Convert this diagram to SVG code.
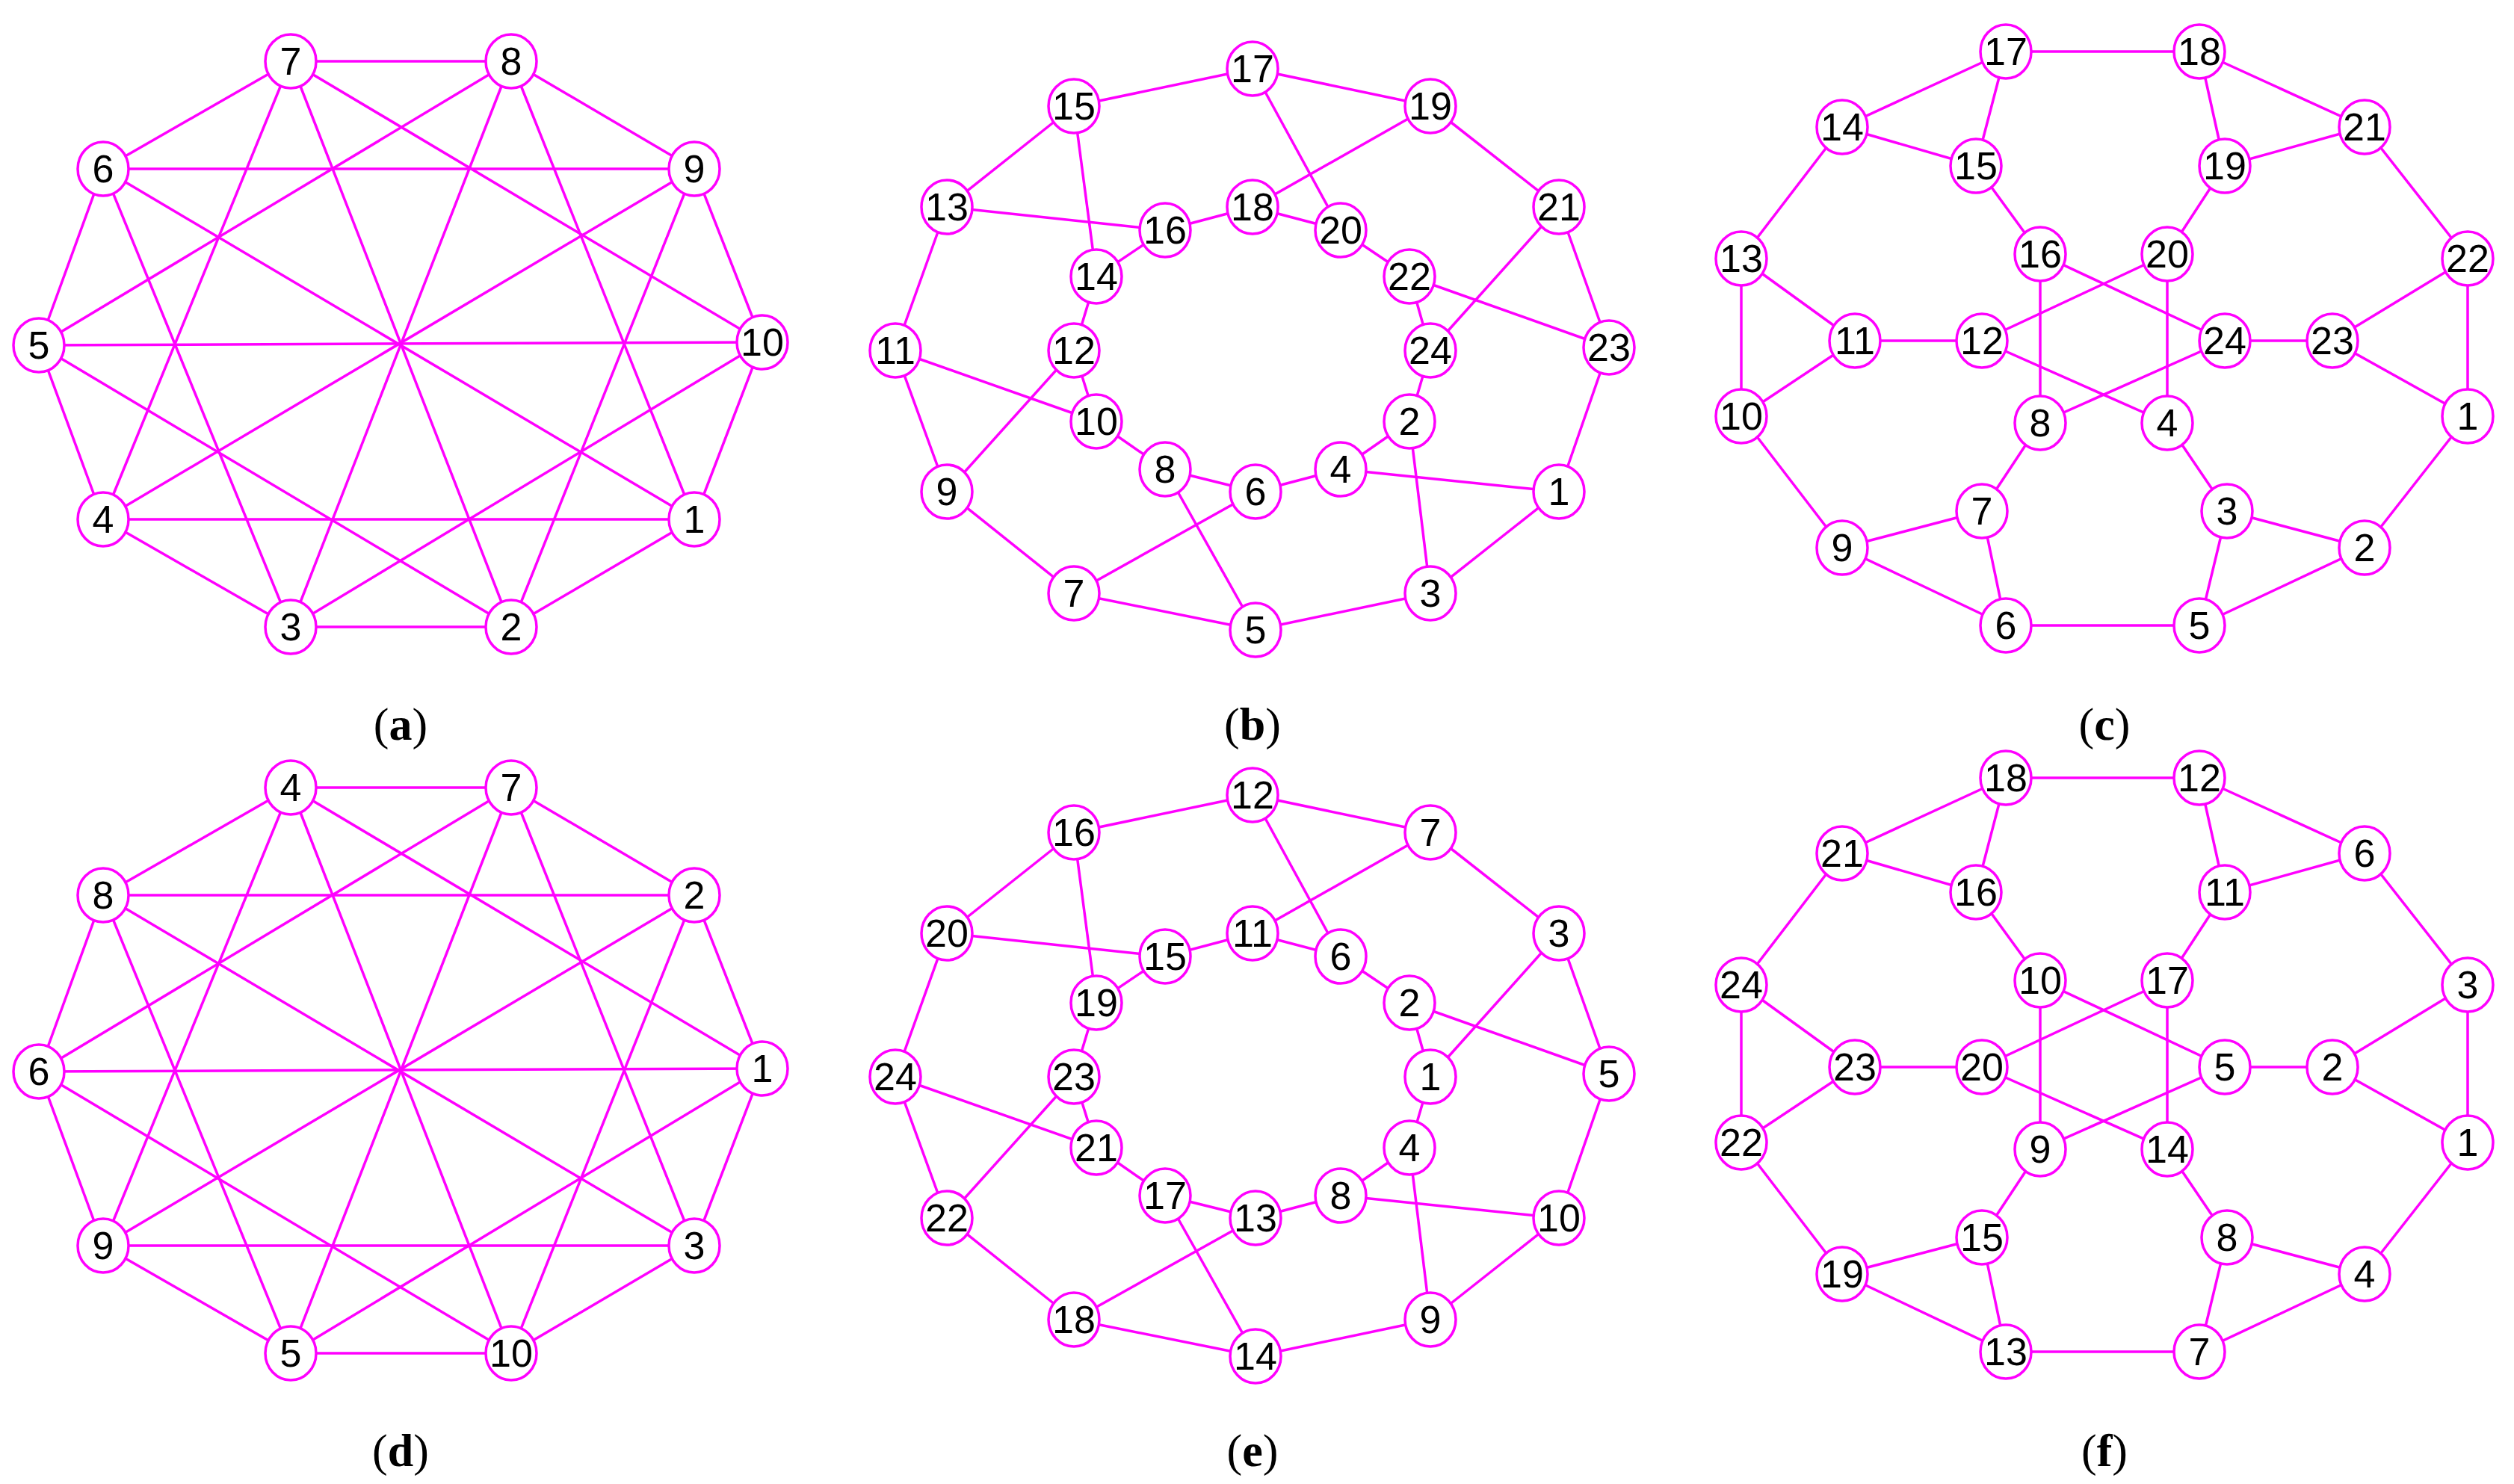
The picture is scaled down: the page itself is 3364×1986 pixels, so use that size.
<svg xmlns="http://www.w3.org/2000/svg" width="3364" height="1986" viewBox="0 0 3364 1986">
<style>
.n ellipse{fill:#fff;stroke:#FF00FF;stroke-width:3.5}
.n text{font-family:"Liberation Sans",Arial,sans-serif;font-size:52px;fill:#000;text-anchor:middle}
.cap{font-family:"Liberation Serif","Times New Roman",serif;font-size:62px;fill:#000;text-anchor:middle}
</style>
<rect width="3364" height="1986" fill="#fff"/>
<defs>
<g id="ga" stroke="#FF00FF" stroke-width="3.5">
<line x1="389" y1="82" x2="684" y2="82"/><line x1="684" y1="82" x2="929" y2="226"/><line x1="929" y1="226" x2="1020" y2="458"/><line x1="1020" y1="458" x2="929" y2="695"/><line x1="929" y1="695" x2="684" y2="839"/><line x1="684" y1="839" x2="389" y2="839"/><line x1="389" y1="839" x2="138" y2="695"/><line x1="138" y1="695" x2="52" y2="462"/><line x1="52" y1="462" x2="138" y2="226"/><line x1="138" y1="226" x2="389" y2="82"/>
<line x1="138" y1="226" x2="929" y2="226"/><line x1="138" y1="695" x2="929" y2="695"/>
<line x1="389" y1="82" x2="1020" y2="458"/><line x1="389" y1="82" x2="684" y2="839"/><line x1="389" y1="82" x2="138" y2="695"/>
<line x1="684" y1="82" x2="389" y2="839"/><line x1="684" y1="82" x2="52" y2="462"/><line x1="684" y1="82" x2="929" y2="695"/>
<line x1="929" y1="226" x2="138" y2="695"/><line x1="929" y1="226" x2="684" y2="839"/>
<line x1="1020" y1="458" x2="52" y2="462"/><line x1="1020" y1="458" x2="389" y2="839"/>
<line x1="138" y1="226" x2="929" y2="695"/><line x1="138" y1="226" x2="389" y2="839"/>
<line x1="52" y1="462" x2="684" y2="839"/>
</g>
<g id="gb" stroke="#FF00FF" stroke-width="3.5">
<line x1="1676" y1="92" x2="1437" y2="142"/><line x1="1676" y1="92" x2="1914" y2="142"/><line x1="1437" y1="142" x2="1267" y2="277"/><line x1="1437" y1="142" x2="1467" y2="370"/><line x1="1267" y1="277" x2="1559" y2="308"/><line x1="1267" y1="277" x2="1198" y2="469"/><line x1="1914" y1="142" x2="2086" y2="277"/><line x1="1914" y1="142" x2="1676" y2="277"/><line x1="1676" y1="92" x2="1794" y2="308"/><line x1="1559" y1="308" x2="1676" y2="277"/><line x1="1559" y1="308" x2="1467" y2="370"/><line x1="1676" y1="277" x2="1794" y2="308"/><line x1="1794" y1="308" x2="1886" y2="370"/><line x1="1886" y1="370" x2="1914" y2="469"/><line x1="1886" y1="370" x2="2153" y2="465"/><line x1="2086" y1="277" x2="1914" y2="469"/><line x1="2086" y1="277" x2="2153" y2="465"/><line x1="1467" y1="370" x2="1437" y2="469"/><line x1="1437" y1="469" x2="1467" y2="564"/><line x1="1437" y1="469" x2="1267" y2="658"/><line x1="1198" y1="469" x2="1467" y2="564"/><line x1="1198" y1="469" x2="1267" y2="658"/><line x1="1267" y1="658" x2="1437" y2="794"/><line x1="1467" y1="564" x2="1559" y2="628"/><line x1="1559" y1="628" x2="1680" y2="658"/><line x1="1559" y1="628" x2="1680" y2="843"/><line x1="1680" y1="658" x2="1794" y2="628"/><line x1="1680" y1="658" x2="1437" y2="794"/><line x1="1794" y1="628" x2="1886" y2="564"/><line x1="1794" y1="628" x2="2086" y2="658"/><line x1="1886" y1="564" x2="1914" y2="469"/><line x1="1886" y1="564" x2="1914" y2="794"/><line x1="2153" y1="465" x2="2086" y2="658"/><line x1="2086" y1="658" x2="1914" y2="794"/><line x1="1914" y1="794" x2="1680" y2="843"/><line x1="1437" y1="794" x2="1680" y2="843"/>
</g>
<g id="gc" stroke="#FF00FF" stroke-width="3.5">
<line x1="2684" y1="69" x2="2943" y2="69"/><line x1="2684" y1="69" x2="2465" y2="170"/><line x1="2684" y1="69" x2="2644" y2="222"/><line x1="2465" y1="170" x2="2644" y2="222"/><line x1="2465" y1="170" x2="2330" y2="346"/><line x1="2943" y1="69" x2="3164" y2="170"/><line x1="2943" y1="69" x2="2977" y2="222"/><line x1="2977" y1="222" x2="3164" y2="170"/><line x1="3164" y1="170" x2="3302" y2="346"/><line x1="2644" y1="222" x2="2730" y2="340"/><line x1="2977" y1="222" x2="2900" y2="340"/><line x1="2330" y1="346" x2="2482" y2="456"/><line x1="2330" y1="346" x2="2330" y2="557"/><line x1="2482" y1="456" x2="2330" y2="557"/><line x1="2482" y1="456" x2="2652" y2="456"/><line x1="2652" y1="456" x2="2900" y2="340"/><line x1="2652" y1="456" x2="2900" y2="566"/><line x1="2730" y1="340" x2="2977" y2="456"/><line x1="2730" y1="340" x2="2730" y2="566"/><line x1="2900" y1="340" x2="2900" y2="566"/><line x1="2977" y1="456" x2="2730" y2="566"/><line x1="2977" y1="456" x2="3121" y2="456"/><line x1="3121" y1="456" x2="3302" y2="346"/><line x1="3121" y1="456" x2="3302" y2="557"/><line x1="3302" y1="346" x2="3302" y2="557"/><line x1="2330" y1="557" x2="2465" y2="733"/><line x1="2730" y1="566" x2="2652" y2="684"/><line x1="2900" y1="566" x2="2980" y2="684"/><line x1="3302" y1="557" x2="3164" y2="733"/><line x1="2465" y1="733" x2="2652" y2="684"/><line x1="2465" y1="733" x2="2684" y2="837"/><line x1="2652" y1="684" x2="2684" y2="837"/><line x1="2980" y1="684" x2="3164" y2="733"/><line x1="2980" y1="684" x2="2943" y2="837"/><line x1="2943" y1="837" x2="3164" y2="733"/><line x1="2684" y1="837" x2="2943" y2="837"/>
</g>
</defs>
<g id="connectors">
<use href="#ga"/><use href="#gb"/><use href="#gc"/>
<use href="#ga" y="972"/><use href="#gb" y="972"/><use href="#gc" y="972"/>
</g>
<g class="n">
<g id="a7"><ellipse cx="389" cy="82" rx="34" ry="36"/><text x="389" y="100">7</text></g>
<g id="a8"><ellipse cx="684" cy="82" rx="34" ry="36"/><text x="684" y="100">8</text></g>
<g id="a9"><ellipse cx="929" cy="226" rx="34" ry="36"/><text x="929" y="244">9</text></g>
<g id="a10"><ellipse cx="1020" cy="458" rx="34" ry="36"/><text x="1020" y="476">10</text></g>
<g id="a1"><ellipse cx="929" cy="695" rx="34" ry="36"/><text x="929" y="713">1</text></g>
<g id="a2"><ellipse cx="684" cy="839" rx="34" ry="36"/><text x="684" y="857">2</text></g>
<g id="a3"><ellipse cx="389" cy="839" rx="34" ry="36"/><text x="389" y="857">3</text></g>
<g id="a4"><ellipse cx="138" cy="695" rx="34" ry="36"/><text x="138" y="713">4</text></g>
<g id="a5"><ellipse cx="52" cy="462" rx="34" ry="36"/><text x="52" y="480">5</text></g>
<g id="a6"><ellipse cx="138" cy="226" rx="34" ry="36"/><text x="138" y="244">6</text></g>

<g id="d4"><ellipse cx="389" cy="1054" rx="34" ry="36"/><text x="389" y="1072">4</text></g>
<g id="d7"><ellipse cx="684" cy="1054" rx="34" ry="36"/><text x="684" y="1072">7</text></g>
<g id="d2"><ellipse cx="929" cy="1198" rx="34" ry="36"/><text x="929" y="1216">2</text></g>
<g id="d1"><ellipse cx="1020" cy="1430" rx="34" ry="36"/><text x="1020" y="1448">1</text></g>
<g id="d3"><ellipse cx="929" cy="1667" rx="34" ry="36"/><text x="929" y="1685">3</text></g>
<g id="d10"><ellipse cx="684" cy="1811" rx="34" ry="36"/><text x="684" y="1829">10</text></g>
<g id="d5"><ellipse cx="389" cy="1811" rx="34" ry="36"/><text x="389" y="1829">5</text></g>
<g id="d9"><ellipse cx="138" cy="1667" rx="34" ry="36"/><text x="138" y="1685">9</text></g>
<g id="d6"><ellipse cx="52" cy="1434" rx="34" ry="36"/><text x="52" y="1452">6</text></g>
<g id="d8"><ellipse cx="138" cy="1198" rx="34" ry="36"/><text x="138" y="1216">8</text></g>

<g id="b17"><ellipse cx="1676" cy="92" rx="34" ry="36"/><text x="1676" y="110">17</text></g>
<g id="b15"><ellipse cx="1437" cy="142" rx="34" ry="36"/><text x="1437" y="160">15</text></g>
<g id="b19"><ellipse cx="1914" cy="142" rx="34" ry="36"/><text x="1914" y="160">19</text></g>
<g id="b13"><ellipse cx="1267" cy="277" rx="34" ry="36"/><text x="1267" y="295">13</text></g>
<g id="b16"><ellipse cx="1559" cy="308" rx="34" ry="36"/><text x="1559" y="326">16</text></g>
<g id="b18"><ellipse cx="1676" cy="277" rx="34" ry="36"/><text x="1676" y="295">18</text></g>
<g id="b20"><ellipse cx="1794" cy="308" rx="34" ry="36"/><text x="1794" y="326">20</text></g>
<g id="b21"><ellipse cx="2086" cy="277" rx="34" ry="36"/><text x="2086" y="295">21</text></g>
<g id="b14"><ellipse cx="1467" cy="370" rx="34" ry="36"/><text x="1467" y="388">14</text></g>
<g id="b22"><ellipse cx="1886" cy="370" rx="34" ry="36"/><text x="1886" y="388">22</text></g>
<g id="b11"><ellipse cx="1198" cy="469" rx="34" ry="36"/><text x="1198" y="487">11</text></g>
<g id="b12"><ellipse cx="1437" cy="469" rx="34" ry="36"/><text x="1437" y="487">12</text></g>
<g id="b24"><ellipse cx="1914" cy="469" rx="34" ry="36"/><text x="1914" y="487">24</text></g>
<g id="b23"><ellipse cx="2153" cy="465" rx="34" ry="36"/><text x="2153" y="483">23</text></g>
<g id="b10"><ellipse cx="1467" cy="564" rx="34" ry="36"/><text x="1467" y="582">10</text></g>
<g id="b2"><ellipse cx="1886" cy="564" rx="34" ry="36"/><text x="1886" y="582">2</text></g>
<g id="b8"><ellipse cx="1559" cy="628" rx="34" ry="36"/><text x="1559" y="646">8</text></g>
<g id="b4"><ellipse cx="1794" cy="628" rx="34" ry="36"/><text x="1794" y="646">4</text></g>
<g id="b6"><ellipse cx="1680" cy="658" rx="34" ry="36"/><text x="1680" y="676">6</text></g>
<g id="b9"><ellipse cx="1267" cy="658" rx="34" ry="36"/><text x="1267" y="676">9</text></g>
<g id="b1"><ellipse cx="2086" cy="658" rx="34" ry="36"/><text x="2086" y="676">1</text></g>
<g id="b7"><ellipse cx="1437" cy="794" rx="34" ry="36"/><text x="1437" y="812">7</text></g>
<g id="b3"><ellipse cx="1914" cy="794" rx="34" ry="36"/><text x="1914" y="812">3</text></g>
<g id="b5"><ellipse cx="1680" cy="843" rx="34" ry="36"/><text x="1680" y="861">5</text></g>

<g id="e12"><ellipse cx="1676" cy="1064" rx="34" ry="36"/><text x="1676" y="1082">12</text></g>
<g id="e16"><ellipse cx="1437" cy="1114" rx="34" ry="36"/><text x="1437" y="1132">16</text></g>
<g id="e7"><ellipse cx="1914" cy="1114" rx="34" ry="36"/><text x="1914" y="1132">7</text></g>
<g id="e20"><ellipse cx="1267" cy="1249" rx="34" ry="36"/><text x="1267" y="1267">20</text></g>
<g id="e15"><ellipse cx="1559" cy="1280" rx="34" ry="36"/><text x="1559" y="1298">15</text></g>
<g id="e11"><ellipse cx="1676" cy="1249" rx="34" ry="36"/><text x="1676" y="1267">11</text></g>
<g id="e6"><ellipse cx="1794" cy="1280" rx="34" ry="36"/><text x="1794" y="1298">6</text></g>
<g id="e3"><ellipse cx="2086" cy="1249" rx="34" ry="36"/><text x="2086" y="1267">3</text></g>
<g id="e19"><ellipse cx="1467" cy="1342" rx="34" ry="36"/><text x="1467" y="1360">19</text></g>
<g id="e2"><ellipse cx="1886" cy="1342" rx="34" ry="36"/><text x="1886" y="1360">2</text></g>
<g id="e24"><ellipse cx="1198" cy="1441" rx="34" ry="36"/><text x="1198" y="1459">24</text></g>
<g id="e23"><ellipse cx="1437" cy="1441" rx="34" ry="36"/><text x="1437" y="1459">23</text></g>
<g id="e1"><ellipse cx="1914" cy="1441" rx="34" ry="36"/><text x="1914" y="1459">1</text></g>
<g id="e5"><ellipse cx="2153" cy="1437" rx="34" ry="36"/><text x="2153" y="1455">5</text></g>
<g id="e21"><ellipse cx="1467" cy="1536" rx="34" ry="36"/><text x="1467" y="1554">21</text></g>
<g id="e4"><ellipse cx="1886" cy="1536" rx="34" ry="36"/><text x="1886" y="1554">4</text></g>
<g id="e17"><ellipse cx="1559" cy="1600" rx="34" ry="36"/><text x="1559" y="1618">17</text></g>
<g id="e8"><ellipse cx="1794" cy="1600" rx="34" ry="36"/><text x="1794" y="1618">8</text></g>
<g id="e13"><ellipse cx="1680" cy="1630" rx="34" ry="36"/><text x="1680" y="1648">13</text></g>
<g id="e22"><ellipse cx="1267" cy="1630" rx="34" ry="36"/><text x="1267" y="1648">22</text></g>
<g id="e10"><ellipse cx="2086" cy="1630" rx="34" ry="36"/><text x="2086" y="1648">10</text></g>
<g id="e18"><ellipse cx="1437" cy="1766" rx="34" ry="36"/><text x="1437" y="1784">18</text></g>
<g id="e9"><ellipse cx="1914" cy="1766" rx="34" ry="36"/><text x="1914" y="1784">9</text></g>
<g id="e14"><ellipse cx="1680" cy="1815" rx="34" ry="36"/><text x="1680" y="1833">14</text></g>

<g id="c17"><ellipse cx="2684" cy="69" rx="34" ry="36"/><text x="2684" y="87">17</text></g>
<g id="c18"><ellipse cx="2943" cy="69" rx="34" ry="36"/><text x="2943" y="87">18</text></g>
<g id="c14"><ellipse cx="2465" cy="170" rx="34" ry="36"/><text x="2465" y="188">14</text></g>
<g id="c15"><ellipse cx="2644" cy="222" rx="34" ry="36"/><text x="2644" y="240">15</text></g>
<g id="c21"><ellipse cx="3164" cy="170" rx="34" ry="36"/><text x="3164" y="188">21</text></g>
<g id="c19"><ellipse cx="2977" cy="222" rx="34" ry="36"/><text x="2977" y="240">19</text></g>
<g id="c13"><ellipse cx="2330" cy="346" rx="34" ry="36"/><text x="2330" y="364">13</text></g>
<g id="c16"><ellipse cx="2730" cy="340" rx="34" ry="36"/><text x="2730" y="358">16</text></g>
<g id="c20"><ellipse cx="2900" cy="340" rx="34" ry="36"/><text x="2900" y="358">20</text></g>
<g id="c22"><ellipse cx="3302" cy="346" rx="34" ry="36"/><text x="3302" y="364">22</text></g>
<g id="c11"><ellipse cx="2482" cy="456" rx="34" ry="36"/><text x="2482" y="474">11</text></g>
<g id="c12"><ellipse cx="2652" cy="456" rx="34" ry="36"/><text x="2652" y="474">12</text></g>
<g id="c24"><ellipse cx="2977" cy="456" rx="34" ry="36"/><text x="2977" y="474">24</text></g>
<g id="c23"><ellipse cx="3121" cy="456" rx="34" ry="36"/><text x="3121" y="474">23</text></g>
<g id="c10"><ellipse cx="2330" cy="557" rx="34" ry="36"/><text x="2330" y="575">10</text></g>
<g id="c8"><ellipse cx="2730" cy="566" rx="34" ry="36"/><text x="2730" y="584">8</text></g>
<g id="c4"><ellipse cx="2900" cy="566" rx="34" ry="36"/><text x="2900" y="584">4</text></g>
<g id="c1"><ellipse cx="3302" cy="557" rx="34" ry="36"/><text x="3302" y="575">1</text></g>
<g id="c7"><ellipse cx="2652" cy="684" rx="34" ry="36"/><text x="2652" y="702">7</text></g>
<g id="c3"><ellipse cx="2980" cy="684" rx="34" ry="36"/><text x="2980" y="702">3</text></g>
<g id="c9"><ellipse cx="2465" cy="733" rx="34" ry="36"/><text x="2465" y="751">9</text></g>
<g id="c2"><ellipse cx="3164" cy="733" rx="34" ry="36"/><text x="3164" y="751">2</text></g>
<g id="c6"><ellipse cx="2684" cy="837" rx="34" ry="36"/><text x="2684" y="855">6</text></g>
<g id="c5"><ellipse cx="2943" cy="837" rx="34" ry="36"/><text x="2943" y="855">5</text></g>

<g id="f18"><ellipse cx="2684" cy="1041" rx="34" ry="36"/><text x="2684" y="1059">18</text></g>
<g id="f12"><ellipse cx="2943" cy="1041" rx="34" ry="36"/><text x="2943" y="1059">12</text></g>
<g id="f21"><ellipse cx="2465" cy="1142" rx="34" ry="36"/><text x="2465" y="1160">21</text></g>
<g id="f16"><ellipse cx="2644" cy="1194" rx="34" ry="36"/><text x="2644" y="1212">16</text></g>
<g id="f6"><ellipse cx="3164" cy="1142" rx="34" ry="36"/><text x="3164" y="1160">6</text></g>
<g id="f11"><ellipse cx="2977" cy="1194" rx="34" ry="36"/><text x="2977" y="1212">11</text></g>
<g id="f24"><ellipse cx="2330" cy="1318" rx="34" ry="36"/><text x="2330" y="1336">24</text></g>
<g id="f10"><ellipse cx="2730" cy="1312" rx="34" ry="36"/><text x="2730" y="1330">10</text></g>
<g id="f17"><ellipse cx="2900" cy="1312" rx="34" ry="36"/><text x="2900" y="1330">17</text></g>
<g id="f3"><ellipse cx="3302" cy="1318" rx="34" ry="36"/><text x="3302" y="1336">3</text></g>
<g id="f23"><ellipse cx="2482" cy="1428" rx="34" ry="36"/><text x="2482" y="1446">23</text></g>
<g id="f20"><ellipse cx="2652" cy="1428" rx="34" ry="36"/><text x="2652" y="1446">20</text></g>
<g id="f5"><ellipse cx="2977" cy="1428" rx="34" ry="36"/><text x="2977" y="1446">5</text></g>
<g id="f2"><ellipse cx="3121" cy="1428" rx="34" ry="36"/><text x="3121" y="1446">2</text></g>
<g id="f22"><ellipse cx="2330" cy="1529" rx="34" ry="36"/><text x="2330" y="1547">22</text></g>
<g id="f9"><ellipse cx="2730" cy="1538" rx="34" ry="36"/><text x="2730" y="1556">9</text></g>
<g id="f14"><ellipse cx="2900" cy="1538" rx="34" ry="36"/><text x="2900" y="1556">14</text></g>
<g id="f1"><ellipse cx="3302" cy="1529" rx="34" ry="36"/><text x="3302" y="1547">1</text></g>
<g id="f15"><ellipse cx="2652" cy="1656" rx="34" ry="36"/><text x="2652" y="1674">15</text></g>
<g id="f8"><ellipse cx="2980" cy="1656" rx="34" ry="36"/><text x="2980" y="1674">8</text></g>
<g id="f19"><ellipse cx="2465" cy="1705" rx="34" ry="36"/><text x="2465" y="1723">19</text></g>
<g id="f4"><ellipse cx="3164" cy="1705" rx="34" ry="36"/><text x="3164" y="1723">4</text></g>
<g id="f13"><ellipse cx="2684" cy="1809" rx="34" ry="36"/><text x="2684" y="1827">13</text></g>
<g id="f7"><ellipse cx="2943" cy="1809" rx="34" ry="36"/><text x="2943" y="1827">7</text></g>
</g>
<g id="captions">
<text class="cap" x="536" y="990">(<tspan font-weight="bold">a</tspan>)</text>
<text class="cap" x="1676" y="990">(<tspan font-weight="bold">b</tspan>)</text>
<text class="cap" x="2816" y="990">(<tspan font-weight="bold">c</tspan>)</text>
<text class="cap" x="536" y="1962">(<tspan font-weight="bold">d</tspan>)</text>
<text class="cap" x="1676" y="1962">(<tspan font-weight="bold">e</tspan>)</text>
<text class="cap" x="2816" y="1962">(<tspan font-weight="bold">f</tspan>)</text>
</g>
</svg>
